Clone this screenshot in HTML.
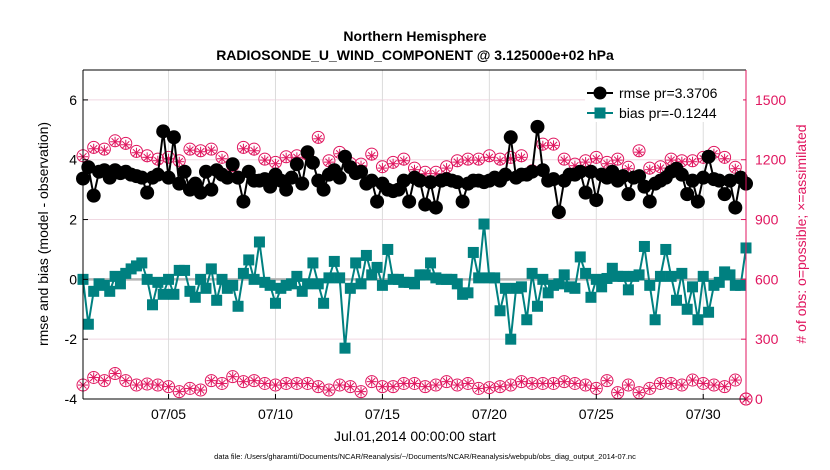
<!DOCTYPE html>
<html><head><meta charset="utf-8"><style>
body{margin:0;background:#fff;}
svg{display:block;font-family:"Liberation Sans",Arial,sans-serif;}
</style></head><body>
<svg id="chart" width="830" height="470" xmlns="http://www.w3.org/2000/svg">
<text x="415" y="41" text-anchor="middle" font-size="14" font-weight="bold">Northern Hemisphere</text>
<text x="415" y="60" text-anchor="middle" font-size="14" font-weight="bold">RADIOSONDE_U_WIND_COMPONENT @ 3.125000e+02 hPa</text>
<g id="grid"></g>
<g id="marks"></g>
<g id="axes"></g>
<text transform="translate(48,234) rotate(-90)" text-anchor="middle" font-size="14">rmse and bias (model - observation)</text>
<text transform="translate(806,234) rotate(-90)" text-anchor="middle" font-size="14" fill="#e0165f"># of obs: o=possible; ×=assimilated</text>
<text x="415" y="441" text-anchor="middle" font-size="14">Jul.01,2014 00:00:00 start</text>
<text x="425" y="459" text-anchor="middle" font-size="7.5">data file: /Users/gharamti/Documents/NCAR/Reanalysis/~/Documents/NCAR/Reanalysis/webpub/obs_diag_output_2014-07.nc</text>
<g id="legend">
<rect x="585" y="80" width="158" height="42" fill="#fff"/>
<g>
<line x1="587" y1="93" x2="613" y2="93" stroke="#000" stroke-width="2"/><circle cx="600" cy="93" r="6.5" fill="#000"/>
<text x="619" y="98" font-size="14">rmse pr=3.3706</text></g>
<g>
<line x1="587" y1="113" x2="613" y2="113" stroke="#008080" stroke-width="2"/><rect x="594.5" y="107.5" width="11" height="11" fill="#008080"/>
<text x="619" y="118" font-size="14">bias pr=-0.1244</text></g>
</g>
</svg>
<script>
const rmse=[3.37,3.75,2.8,3.6,3.65,3.4,3.65,3.55,3.6,3.5,3.45,3.4,2.9,3.4,3.5,4.95,3.4,4.75,3.2,3.6,3.0,3.2,2.9,3.6,3.0,3.65,3.5,3.4,3.85,3.4,2.6,3.6,3.3,3.3,3.35,3.1,3.5,3.3,3.0,3.4,3.85,3.2,
4.25,3.9,3.3,3.0,3.5,3.65,3.4,4.1,3.75,3.55,3.6,3.2,3.3,2.6,3.2,3.0,2.95,3.0,3.3,2.6,3.4,3.3,2.5,3.25,2.4,3.3,3.35,3.3,3.25,2.6,3.2,3.3,3.3,3.25,3.3,3.4,3.3,3.5,4.75,3.4,3.5,
3.5,3.6,5.1,3.65,3.3,3.35,2.25,3.3,3.5,3.5,3.6,2.9,3.6,2.65,3.5,3.4,3.6,3.3,3.45,2.85,3.4,3.45,3.1,2.6,3.2,3.3,3.4,3.6,3.7,3.5,2.85,3.3,2.6,3.4,4.1,3.35,3.3,2.85,3.3,2.4,3.4,3.2];
const bias=[0.0,-1.5,-0.4,-0.15,-0.2,-0.4,0.1,-0.15,0.2,0.35,0.45,0.55,0.0,-0.85,-0.1,-0.5,0.0,-0.5,0.3,0.3,-0.4,-0.6,0.0,-0.3,0.35,-0.7,0.0,-0.3,-0.2,-0.9,0.2,0.65,0.0,1.25,-0.1,-0.2,-0.8,-0.3,-0.2,-0.15,0.1,-0.4,
-0.15,0.55,-0.15,-0.8,0.05,0.6,0.05,-2.3,-0.3,0.55,-0.15,0.8,0.15,0.4,-0.2,1.0,0.0,0.0,-0.1,-0.1,-0.15,0.15,0.15,0.55,0.05,0.0,0.0,0.0,-0.15,-0.5,-0.45,0.9,0.05,1.85,0.05,0.05,-1.05,-0.3,-2.0,-0.3,-0.25,
-1.35,0.2,-0.9,0.0,-0.45,-0.2,-0.15,0.15,-0.25,-0.3,0.75,0.2,-0.6,0.0,-0.25,0.03,0.37,0.1,0.1,-0.35,0.1,0.15,1.1,-0.2,-1.35,0.1,1.0,0.1,-0.7,0.2,-1.0,-0.25,-1.35,0.1,-1.1,-0.2,-0.1,0.25,0.15,-0.2,-0.2,1.05];
const possHigh=[1220,1262,1253,1295,1282,1242,1220,1203,1212,1195,1253,1245,1253,1212,1170,1262,1253,1203,1187,1215,1220,
1228,1312,1195,1237,1182,1178,1228,1165,1187,1203,1158,1137,1137,1165,1195,1203,1203,1220,1203,1212,
1220,1145,1278,1278,1203,1178,1195,1212,1187,1203,1162,1245,1158,1165,1203,1195,1195,1212,1237,1212,1162,0];
const assimHigh=[1215,1255,1248,1290,1275,1235,1212,1195,1205,1190,1248,1240,1248,1205,1165,1255,1245,1198,1180,1210,1212,
1220,1305,1188,1230,1175,1170,1220,1158,1180,1195,1150,1130,1130,1158,1188,1198,1198,1212,1195,1205,
1212,1140,1270,1272,1198,1170,1188,1205,1180,1198,1155,1238,1150,1158,1198,1190,1190,1205,1230,1205,1155,0];
const possLow=[70,108,92,128,92,70,75,70,62,37,53,45,92,78,112,87,92,78,70,78,78,
78,62,45,70,62,37,87,62,62,78,78,62,70,87,70,78,53,57,62,70,
87,78,78,78,87,78,70,53,92,32,70,32,53,78,78,70,95,78,70,62,95,0];
const assimLow=[70,108,92,128,92,70,75,70,62,37,53,45,92,78,112,87,92,78,70,78,78,
78,62,45,70,62,37,87,62,62,78,78,62,70,87,70,78,53,57,62,70,
87,78,78,78,87,78,70,53,92,32,70,32,53,78,78,70,95,78,70,62,95,0];
const leftTicks=[6,4,2,0,-2,-4];
const rightTicks=[1500,1200,900,600,300,0];
const xTickDays=[4,9,14,19,24,29];
const xTickLabels=["07/05","07/10","07/15","07/20","07/25","07/30"];

const NS="http://www.w3.org/2000/svg";
const X0=83,X1=746,Y0=70,Y1=399;
const xDay=d=>X0+(X1-X0)*d/31;
const yL=v=>Y1-(v+4)*(Y1-Y0)/11;
const yR=v=>Y1-v*(Y1-Y0)/1650;
function mk(parent,tag,attrs){const e=document.createElementNS(NS,tag);for(const k in attrs)e.setAttribute(k,attrs[k]);parent.appendChild(e);return e;}
const grid=document.getElementById('grid'),marks=document.getElementById('marks'),axes=document.getElementById('axes');
const pink="#e0165f";
leftTicks.forEach(v=>{const l=mk(grid,'line',{x1:X0,x2:X1,y1:yL(v),y2:yL(v),stroke:'#f0d8e2','stroke-width':1});


const t=mk(axes,'text',{x:X0-6,y:yL(v)+5,'text-anchor':'end','font-size':14});t.textContent=v;


mk(axes,'line',{x1:X0,x2:X0+5,y1:yL(v),y2:yL(v),stroke:'#000'});});
rightTicks.forEach(v=>{const t=mk(axes,'text',{x:X1+9,y:yR(v)+5,'font-size':14,fill:pink});t.textContent=v;


mk(axes,'line',{x1:X1-5,x2:X1,y1:yR(v),y2:yR(v),stroke:pink});});
xTickDays.forEach((d,i)=>{const l=mk(grid,'line',{x1:xDay(d),x2:xDay(d),y1:Y0,y2:Y1,stroke:'#dcdcdc'});


mk(axes,'line',{x1:xDay(d),x2:xDay(d),y1:Y1,y2:Y1-5,stroke:'#000'});
const t=mk(axes,'text',{x:xDay(d),y:Y1+20,'text-anchor':'middle','font-size':14});t.textContent=xTickLabels[i];

});
const zl=mk(marks,'line',{x1:X0,x2:X1,y1:yL(0),y2:yL(0),stroke:'#b4b4b4','stroke-width':2.5});


function obsMarks(arr,name){arr.forEach((v,j)=>{const x=xDay(j/2),y=yR(v);
const g=mk(marks,'g',{});


if(name.indexOf('possible')>=0){mk(g,'circle',{cx:x,cy:y,r:6,fill:'none',stroke:pink,'stroke-width':1});}
else{[[0,-5,0,5],[-5,0,5,0],[-3.5,-3.5,3.5,3.5],[-3.5,3.5,3.5,-3.5]].forEach(s=>mk(g,'line',{x1:x+s[0],y1:y+s[1],x2:x+s[2],y2:y+s[3],stroke:pink,'stroke-width':1}));}});}
obsMarks(possHigh,'obs-possible-point');obsMarks(assimHigh,'obs-assimilated-point');
obsMarks(possLow,'obs-possible-point-low');obsMarks(assimLow,'obs-assimilated-point-low');
function series(arr,color,name,sq){const pts=arr.map((v,i)=>xDay(i/4)+','+yL(v)).join(' ');
const pl=mk(marks,'polyline',{points:pts,fill:'none',stroke:color,'stroke-width':2});


arr.forEach((v,i)=>{const x=xDay(i/4),y=yL(v);let m;
if(sq)m=mk(marks,'rect',{x:x-5.5,y:y-5.5,width:11,height:11,fill:color});else m=mk(marks,'circle',{cx:x,cy:y,r:7,fill:color});

});}
series(rmse,'#000','rmse',false);series(bias,'#008080','bias',true);
mk(axes,'line',{x1:X0,x2:X0,y1:Y0,y2:Y1,stroke:'#000'});
mk(axes,'line',{x1:X0,x2:X1,y1:Y1,y2:Y1,stroke:'#000'});
mk(axes,'line',{x1:X0,x2:X1,y1:Y0,y2:Y0,stroke:'#000'});
mk(axes,'line',{x1:X1,x2:X1,y1:Y0,y2:Y1,stroke:pink});
</script>
</body></html>
